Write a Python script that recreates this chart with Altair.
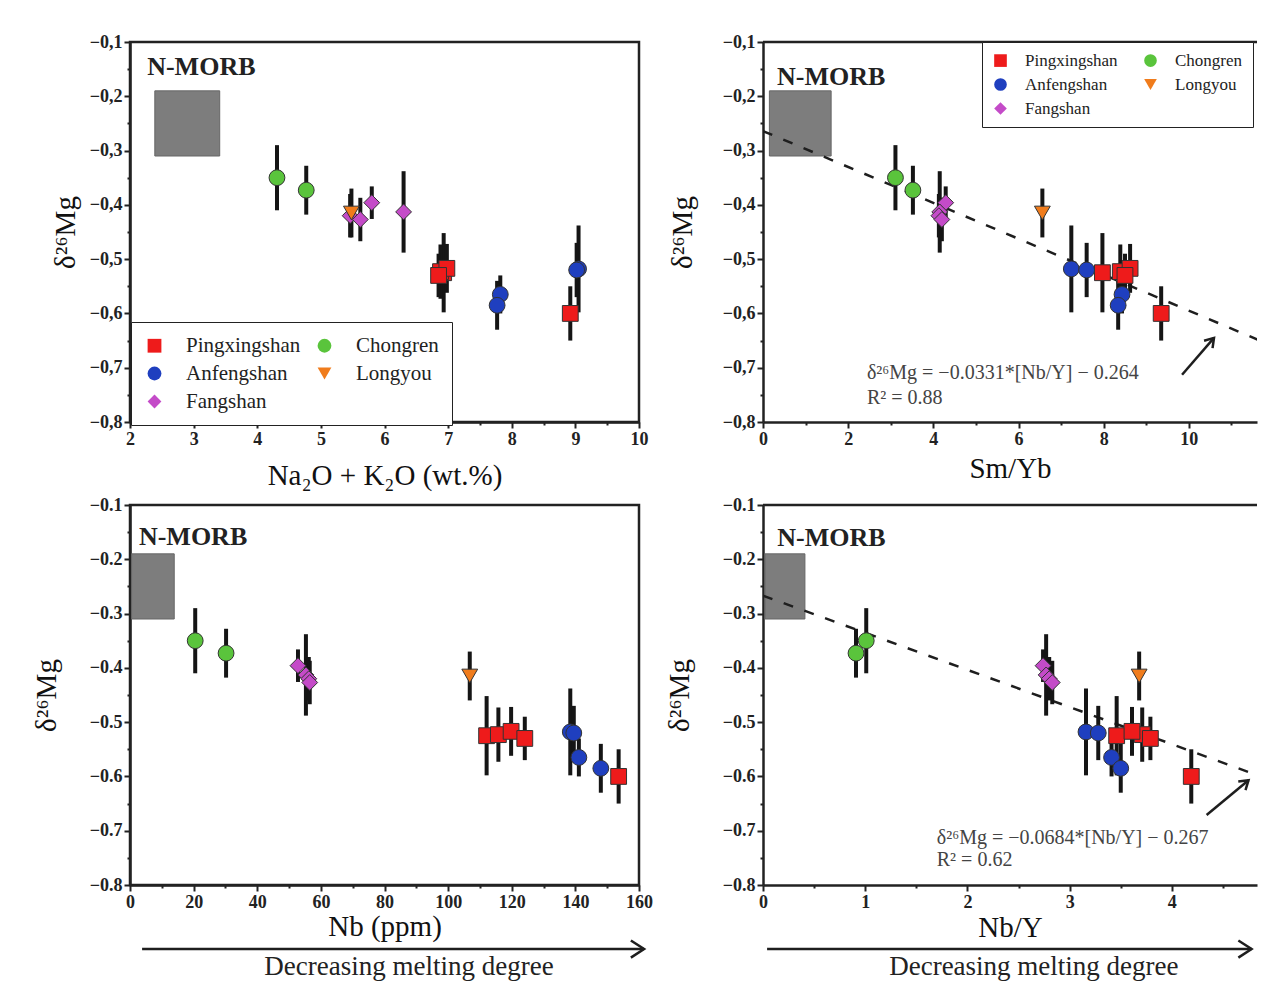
import altair as alt
import pandas as pd

# ---------------- data ----------------
site = ["Pingxingshan", "Pingxingshan", "Pingxingshan", "Pingxingshan", "Pingxingshan",
        "Anfengshan", "Anfengshan", "Anfengshan", "Anfengshan",
        "Chongren", "Chongren",
        "Fangshan", "Fangshan", "Fangshan", "Fangshan",
        "Longyou"]
delta26mg = [-0.525, -0.523, -0.517, -0.530, -0.600,
             -0.518, -0.520, -0.565, -0.585,
             -0.350, -0.373,
             -0.396, -0.413, -0.420, -0.427,
             -0.415]
mg_err = [0.073, 0.050, 0.045, 0.040, 0.050,
          0.080, 0.050, 0.035, 0.045,
          0.060, 0.045,
          0.030, 0.075, 0.040, 0.040,
          0.045]
na2o_k2o = [6.93, 6.88, 6.98, 6.85, 8.92, 9.05, 9.02, 7.82, 7.77, 4.31, 4.77, 5.80, 6.30, 5.46, 5.62, 5.48]
sm_yb = [7.97, 8.39, 8.62, 8.50, 9.35, 7.24, 7.60, 8.43, 8.34, 3.11, 3.52, 4.29, 4.15, 4.13, 4.20, 6.56]
nb_ppm = [112.1, 115.8, 119.8, 124.1, 153.6, 138.4, 139.5, 141.1, 148.0, 20.5, 30.2, 52.8, 55.3, 56.2, 56.5, 106.8]
nb_y = [3.46, 3.71, 3.61, 3.79, 4.19, 3.16, 3.28, 3.41, 3.50, 1.01, 0.91, 2.74, 2.77, 2.80, 2.83, 3.68]

# N-MORB field (grey box) per panel
morb_y = [-0.31, -0.19]
morb_na2o_k2o = [2.39, 3.41]
morb_sm_yb = [0.15, 1.60]
morb_nb = [0.5, 13.9]
morb_nb_y = [0.02, 0.41]

# regression lines (end points)
fit_sm_yb_x = [0, 12]
fit_sm_yb_y = [-0.264, -0.661]
fit_nb_y_x = [0, 5]
fit_nb_y_y = [-0.267, -0.609]

# legend order (filled column by column: left column P/A/F, right column C/L)
site_order = ["Pingxingshan", "Anfengshan", "Fangshan", "Chongren", "Longyou"]
site_colors = ["#ee1b1b", "#1f3fbf", "#c44bc8", "#5ac43c", "#f07c1c"]
site_shapes = ["square", "circle", "diamond", "circle", "triangle-down"]

y_ticks = [-0.8, -0.75, -0.7, -0.65, -0.6, -0.55, -0.5, -0.45, -0.4, -0.35, -0.3, -0.25, -0.2, -0.15, -0.1]
na2o_ticks = [2, 2.5, 3, 3.5, 4, 4.5, 5, 5.5, 6, 6.5, 7, 7.5, 8, 8.5, 9, 9.5, 10]
sm_yb_ticks = [0, 1, 2, 3, 4, 5, 6, 7, 8, 9, 10, 11]
nb_ticks = [0, 10, 20, 30, 40, 50, 60, 70, 80, 90, 100, 110, 120, 130, 140, 150, 160]
nb_y_ticks = [0, 0.5, 1, 1.5, 2, 2.5, 3, 3.5, 4, 4.5]

df = pd.DataFrame({
    "site": site, "mg": delta26mg, "err": mg_err,
    "na2o_k2o": na2o_k2o, "sm_yb": sm_yb, "nb": nb_ppm, "nb_y": nb_y,
})
df["lo"] = df["mg"] - df["err"]
df["hi"] = df["mg"] + df["err"]

SERIF = "Liberation Serif"
INK = "#1e1e1e"
CHEVRON = "M-1,-0.65L0,0L-1,0.65"
YTITLE = "δ²⁶Mg"


def make_panel(cfg):
    col = cfg["col"]
    xs = alt.Scale(domain=cfg["dom"], nice=False, zero=False)
    ys = alt.Scale(domain=[-0.8, -0.1], nice=False, zero=False)
    xmaj = cfg["xmajor"]
    ymaj = "abs(round(datum.value*100)) % 10 == 0"
    yfmt = "replace(format(datum.value, '.1f'), '.', ',')" if cfg["comma"] else "format(datum.value, '.1f')"
    xa = alt.Axis(values=cfg["ticks"], labelExpr=f"{xmaj} ? format(datum.value, 'd') : ''",
                  tickSize={"condition": {"test": xmaj, "value": 6}, "value": 3},
                  labelOverlap=False, labelFlush=False,
                  titleY=cfg["xtitleY"], titleBaseline="middle")
    ya = alt.Axis(values=y_ticks, labelExpr=f"{ymaj} ? {yfmt} : ''",
                  tickSize={"condition": {"test": ymaj, "value": 6}, "value": 3},
                  labelOverlap=False, labelFlush=False,
                  titleX=cfg["ytitleX"], titleBaseline="middle")

    def X(f):
        return alt.X(f, type="quantitative", scale=xs, axis=xa, title=cfg["xtitle"])

    def Y(f):
        return alt.Y(f, type="quantitative", scale=ys, axis=ya, title=YTITLE)

    layers = []
    box = pd.DataFrame({"x0": [cfg["morb"][0]], "x1": [cfg["morb"][1]],
                        "y0": [morb_y[0]], "y1": [morb_y[1]]})
    layers.append(alt.Chart(box).mark_rect(fill="#7d7d7d", stroke="#666", strokeWidth=1).encode(
        x=X("x0"), x2="x1", y=Y("y0"), y2="y1"))

    if cfg.get("open_right"):
        top = pd.DataFrame({"tx0": [cfg["dom"][0]], "tx1": [cfg["dom"][1]], "ty": [-0.1]})
        layers.append(alt.Chart(top).mark_rule(color="#222", strokeWidth=2.5).encode(
            x=X("tx0"), x2="tx1", y=Y("ty")))

    if cfg.get("fit"):
        fx, fy = cfg["fit"]
        fdf = pd.DataFrame({"fx": fx, "fy": fy})
        layers.append(alt.Chart(fdf).mark_line(color=INK, strokeWidth=2.5, strokeDash=[10, 12], clip=True).encode(
            x=X("fx"), y=Y("fy")))

    layers.append(alt.Chart(df).mark_rule(color="#151515", strokeWidth=4).encode(
        x=X(col), y=Y("lo"), y2="hi"))

    leg = cfg["legend"]
    if leg is not None:
        legend = alt.Legend(title=None, orient="none", legendX=leg["x"], legendY=leg["y"], columns=2,
                            padding=leg["pad"], rowPadding=leg["rowpad"], columnPadding=leg["colpad"],
                            labelOffset=leg["off"], symbolSize=leg["sym"], labelFont=SERIF,
                            labelFontSize=leg["fs"], labelColor="#222", labelLimit=400,
                            strokeColor="#222", fillColor="white",
                            symbolStrokeColor="#333", symbolStrokeWidth=1)
    else:
        legend = None
    layers.append(alt.Chart(df).mark_point(filled=True, opacity=1, stroke="#333", strokeWidth=1, size=250).encode(
        x=X(col), y=Y("mg"),
        fill=alt.Fill("site:N", scale=alt.Scale(domain=site_order, range=site_colors), legend=legend),
        shape=alt.Shape("site:N", scale=alt.Scale(domain=site_order, range=site_shapes), legend=legend),
    ))

    lab = pd.DataFrame({"lx": [cfg["label"][0]], "ly": [cfg["label"][1]], "t": ["N-MORB"]})
    layers.append(alt.Chart(lab).mark_text(align="left", baseline="middle", font=SERIF, fontWeight="bold",
                                           fontSize=26, color="#222").encode(
        x=X("lx"), y=Y("ly"), text="t"))

    if cfg.get("annot"):
        a = cfg["annot"]
        tdf = pd.DataFrame({"tx": [a["tx"], a["tx"]], "ty": a["ty"], "t": a["text"]})
        layers.append(alt.Chart(tdf).mark_text(align="left", baseline="middle", font=SERIF,
                                               fontSize=20, color="#444").encode(
            x=X("tx"), y=Y("ty"), text="t"))
        adf = pd.DataFrame({"ax0": [a["arrow"][0]], "ay0": [a["arrow"][1]],
                            "ax1": [a["arrow"][2]], "ay1": [a["arrow"][3]]})
        layers.append(alt.Chart(adf).mark_rule(color=INK, strokeWidth=2.5).encode(
            x=X("ax0"), y=Y("ay0"), x2="ax1", y2="ay1"))
        layers.append(alt.Chart(adf).mark_point(shape=CHEVRON, filled=False, color=INK, strokeWidth=2.5,
                                                size=300, angle=a["angle"], opacity=1).encode(
            x=X("ax1"), y=Y("ay1")))

    if cfg.get("bottom"):
        b = cfg["bottom"]
        bdf = pd.DataFrame({"bx0": [b[0]], "bx1": [b[1]], "by": [-0.918]})
        layers.append(alt.Chart(bdf).mark_rule(color=INK, strokeWidth=2.5).encode(
            x=X("bx0"), x2="bx1", y=Y("by")))
        layers.append(alt.Chart(bdf).mark_point(shape=CHEVRON, filled=False, color=INK, strokeWidth=2.5,
                                                size=700, opacity=1).encode(
            x=X("bx1"), y=Y("by")))
        tdf2 = pd.DataFrame({"tx": [b[2]], "ty": [-0.966], "t": ["Decreasing melting degree"]})
        layers.append(alt.Chart(tdf2).mark_text(align="center", baseline="alphabetic", font=SERIF,
                                                fontSize=27, color="#222").encode(
            x=X("tx"), y=Y("ty"), text="t"))

    props = dict(width=cfg["width"], height=380)
    if cfg.get("open_right"):
        props["view"] = alt.ViewBackground(stroke="transparent")
    return alt.layer(*layers).properties(**props)


panels = [
    dict(col="na2o_k2o", xtitle="Na₂O + K₂O (wt.%)", dom=[2, 10], ticks=na2o_ticks,
         xmajor="abs(round(datum.value*10)) % 10 == 0", comma=True, width=509,
         morb=morb_na2o_k2o, label=(2.27, -0.146), ytitleX=-65, xtitleY=53,
         legend=dict(x=1, y=280, pad=13, rowpad=6, colpad=13, off=21, sym=190, fs=21)),
    dict(col="sm_yb", xtitle="Sm/Yb", dom=[0, 11.6], ticks=sm_yb_ticks,
         xmajor="round(datum.value) % 2 == 0", comma=True, width=494, open_right=True,
         morb=morb_sm_yb, label=(0.33, -0.165), ytitleX=-81, xtitleY=46,
         fit=(fit_sm_yb_x, fit_sm_yb_y),
         annot=dict(tx=2.44, ty=[-0.710, -0.756],
                    text=["δ²⁶Mg = −0.0331*[Nb/Y] − 0.264", "R² = 0.88"],
                    arrow=[9.84, -0.713, 10.59, -0.645], angle=311),
         legend=dict(x=219, y=0, pad=10, rowpad=6, colpad=24, off=16, sym=160, fs=17)),
    dict(col="nb", xtitle="Nb (ppm)", dom=[0, 160], ticks=nb_ticks,
         xmajor="round(datum.value) % 20 == 0", comma=False, width=509,
         morb=morb_nb, label=(2.8, -0.159), ytitleX=-84, xtitleY=41,
         bottom=(3.8, 161.6, 87.7), legend=None),
    dict(col="nb_y", xtitle="Nb/Y", dom=[0, 4.833], ticks=nb_y_ticks,
         xmajor="abs(round(datum.value*10)) % 10 == 0", comma=False, width=494, open_right=True,
         morb=morb_nb_y, label=(0.14, -0.16), ytitleX=-84, xtitleY=42,
         fit=(fit_nb_y_x, fit_nb_y_y),
         annot=dict(tx=1.70, ty=[-0.713, -0.754],
                    text=["δ²⁶Mg = −0.0684*[Nb/Y] − 0.267", "R² = 0.62"],
                    arrow=[4.34, -0.671, 4.75, -0.607], angle=320),
         bottom=(0.04, 4.78, 2.65), legend=None),
]

charts = [make_panel(c) for c in panels]

chart = alt.concat(*charts, columns=2, spacing={"row": 83, "column": 124}, bounds="flush").resolve_scale(
    fill="independent", shape="independent"
).resolve_legend(
    fill="independent", shape="independent"
).properties(
    padding={"left": 22, "top": 23, "right": 0, "bottom": 0},
    background="white",
).configure_view(
    stroke="#222", strokeWidth=2.5
).configure_axis(
    grid=False, domainColor="#222", domainWidth=2.5, tickColor="#222", tickWidth=2,
    labelFont=SERIF, labelFontSize=18, labelFontWeight="bold", labelColor="#222", labelPadding=2,
    titleFont=SERIF, titleFontSize=29, titleFontWeight="normal", titleColor="#111",
)

chart.save("out.html", embed_options={"renderer": "svg", "actions": False})
